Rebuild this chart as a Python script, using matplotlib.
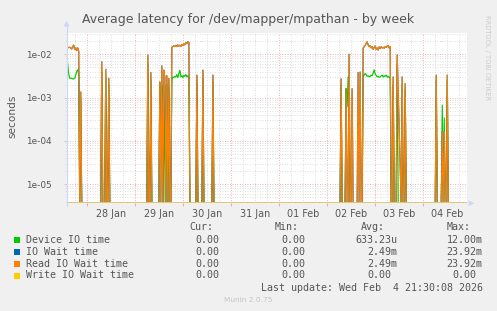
import matplotlib
matplotlib.use('Agg')
import matplotlib.pyplot as plt
from matplotlib.patches import Polygon, Rectangle
import numpy as np

W, H = 497, 311

# ---- data: hours since 28 Jan 00:00 ----
read_hours = [-10.0, -9.5, -9.0, -8.5, -8.0, -7.5, -7.0, -6.5, -6.0, -5.5, -5.0, -4.5, -4.0, -3.5, -3.0, -2.5,
              7.0, 7.5, 8.0, 9.0, 9.5, 10.0, 10.5, 11.0, 11.5,
              30.0, 30.5, 31.0, 31.5, 32.0, 32.5,
              36.0, 36.5, 37.0, 37.5, 38.0, 38.5, 39.0, 39.5, 40.0, 40.5, 41.0, 41.5, 42.0,
              42.5, 43.0, 43.5, 44.0, 44.5, 45.0, 45.5, 46.0, 46.5, 47.0, 47.5, 48.0, 48.5, 49.0, 49.5, 50.0, 50.5, 51.0, 51.5,
              54.5, 55.0, 55.5, 57.5, 58.0, 58.5, 62.5, 63.0, 63.5,
              126.5, 127.0, 127.5, 129.0, 129.5, 130.0, 130.5, 131.0, 131.5, 132.0, 132.5, 133.0,
              135.0, 135.5, 136.0, 136.5, 137.0, 137.5,
              138.0, 138.5, 139.0, 139.5, 140.0, 140.5, 141.0, 141.5, 142.0, 142.5, 143.0, 143.5, 144.0, 144.5,
              145.0, 145.5, 146.0, 146.5, 147.0, 147.5, 148.0, 148.5, 149.0, 149.5, 150.0, 150.5, 151.0, 151.5, 152.0,
              152.5, 153.0, 153.5, 154.0, 154.5, 155.0, 157.0, 157.5, 158.0, 158.5, 159.0, 159.5,
              174.0, 174.5, 175.0, 177.0, 177.5, 178.0, 178.5, 179.0, 179.5, 180.0, 180.5, 189.6]
read_vals = [0.0145, 0.0145, 0.0143, 0.0145, 0.0140, 0.0132, 0.0150, 0.0163, 0.0128, 0.0142, 0.0122, 0.0140, 0.0118, 0.0, 0.00135, 0.0,
             0.0, 0.0067, 0.0, 0.0, 0.0045, 0.0, 0.0, 0.0028, 0.0,
             0.0, 0.0096, 0.0, 0.0, 0.0038, 0.0,
             0.0, 0.0023, 0.0, 0.0054, 0.0, 0.0043, 0.0030, 0.0, 0.0032, 0.0, 0.0028, 0.0, 0.0,
             0.0145, 0.0150, 0.0157, 0.0152, 0.0160, 0.0150, 0.0165, 0.0155, 0.0162, 0.0150, 0.0168, 0.0160, 0.0175, 0.0165, 0.0185, 0.0175, 0.0195, 0.0185, 0.0,
             0.0, 0.0033, 0.0, 0.0, 0.0043, 0.0, 0.0, 0.0033, 0.0,
             0.0, 0.0027, 0.0, 0.0, 0.0016, 0.0, 0.0, 0.0100, 0.0, 0.0, 0.0016, 0.0,
             0.0, 0.0038, 0.0, 0.0039, 0.0, 0.0,
             0.0138, 0.0150, 0.0160, 0.0178, 0.0195, 0.0165, 0.0150, 0.0158, 0.0140, 0.0150, 0.0130, 0.0145, 0.0155, 0.0130,
             0.0140, 0.0125, 0.0148, 0.0135, 0.0150, 0.0140, 0.0145, 0.0138, 0.0150, 0.0143, 0.0155, 0.0160, 0.0140, 0.0150, 0.0,
             0.0, 0.0030, 0.0, 0.0, 0.0, 0.0096, 0.0, 0.0030, 0.0, 0.0, 0.0021, 0.0,
             0.0, 0.0033, 0.0, 0.0, 0.000165, 0.0, 0.000165, 0.0, 0.0, 0.0033, 0.0, 0.0]

# IO Wait time is identical to Read IO Wait time
iowait_hours = list(read_hours)
iowait_vals = list(read_vals)

device_hours = [-10.0, -9.5, -9.0, -8.5, -8.0, -7.5, -7.0, -6.5, -6.0, -5.5, -5.0, -4.5, -4.0, -3.5, -3.0, -2.5,
                7.0, 7.5, 8.0, 9.0, 9.5, 10.0, 10.5, 11.0, 11.5,
                30.0, 30.5, 31.0, 31.5, 32.0, 32.5,
                36.0, 36.5, 37.0, 37.5, 38.0, 38.5, 39.0, 39.5, 40.0, 40.5, 41.0, 41.5, 42.0,
                42.5, 43.0, 43.5, 44.0, 44.5, 45.0, 45.5, 46.0, 46.5, 47.0, 47.5, 48.0, 48.5, 49.0, 49.5, 50.0, 50.5, 51.0, 51.5,
                54.5, 55.0, 55.5, 57.5, 58.0, 58.5, 62.5, 63.0, 63.5,
                126.5, 127.0, 127.5, 129.0, 129.5, 130.0, 130.5, 131.0, 131.5, 137.5,
                138.0, 138.5, 139.0, 139.5, 140.0, 140.5, 141.0, 141.5, 142.0, 142.5, 143.0, 143.5, 144.0, 144.5,
                145.0, 145.5, 146.0, 146.5, 147.0, 147.5, 148.0, 148.5, 149.0, 149.5, 150.0, 150.5, 151.0, 151.5, 152.0,
                152.5, 153.0, 153.5, 154.5, 155.0, 155.5, 157.0, 157.5, 158.0, 158.5, 159.0, 159.5,
                174.0, 174.5, 175.0, 177.0, 177.5, 178.0, 178.5, 179.0, 179.5, 180.0, 180.5, 189.6]
device_vals = [0.0090, 0.0060, 0.0035, 0.0028, 0.0028, 0.0028, 0.0027, 0.0027, 0.0028, 0.0033, 0.0040, 0.0044, 0.0036, 0.0, 0.0010, 0.0,
               0.0, 0.0040, 0.0, 0.0, 0.0030, 0.0, 0.0, 0.0020, 0.0,
               0.0, 0.0060, 0.0, 0.0, 0.0025, 0.0,
               0.0, 0.0022, 0.000044, 0.0019, 0.0015, 0.0, 0.0020, 0.0, 0.0020, 0.0, 0.0018, 0.0, 0.0,
               0.0025, 0.0030, 0.0029, 0.0031, 0.0030, 0.0034, 0.0029, 0.0036, 0.0043, 0.0030, 0.0032, 0.0029, 0.0033, 0.0031, 0.0034, 0.0030, 0.0032, 0.0030, 0.0,
               0.0, 0.0022, 0.0, 0.0, 0.0028, 0.0, 0.0, 0.0022, 0.0,
               0.0, 0.0020, 0.0, 0.0, 0.0016, 0.00062, 0.0030, 0.0030, 0.0, 0.0,
               0.0032, 0.0033, 0.0036, 0.0034, 0.0031, 0.0032, 0.0030, 0.0031, 0.0033, 0.0032, 0.0037, 0.0044, 0.0035, 0.0033,
               0.0030, 0.0031, 0.00295, 0.0030, 0.0032, 0.0033, 0.0030, 0.0032, 0.0031, 0.0033, 0.0030, 0.0031, 0.0029, 0.0030, 0.0,
               0.0, 0.0020, 0.0, 0.0, 0.0060, 0.0, 0.0, 0.0020, 0.0, 0.0, 0.0015, 0.0,
               0.0, 0.0025, 0.0, 0.0, 0.00067, 0.0, 0.00034, 0.0, 0.0, 0.0025, 0.0, 0.0]

write_hours = [-10.1, 189.6]
write_vals = [0.0, 0.0]

day_labels = ['28 Jan', '29 Jan', '30 Jan', '31 Jan', '01 Feb', '02 Feb', '03 Feb', '04 Feb']
ytick_vals = [1e-5, 1e-4, 1e-3, 1e-2]
ytick_labels = ['1e-05', '1e-04', '1e-03', '1e-02']

legend_names = ['Device IO time', 'IO Wait time', 'Read IO Wait time', 'Write IO Wait time']
legend_colors = ['#00CC00', '#0066B3', '#FF8000', '#FFCC00']
cur_vals = ['0.00', '0.00', '0.00', '0.00']
min_vals = ['0.00', '0.00', '0.00', '0.00']
avg_vals = ['633.23u', '2.49m', '2.49m', '0.00']
max_vals = ['12.00m', '23.92m', '23.92m', '0.00']

# ---- figure ----
YMIN, YMAX = 3.64e-6, 0.031
fig = plt.figure(figsize=(W / 100, H / 100), dpi=100, facecolor='#F0F0F0')
ax = fig.add_axes([66.5 / W, 1 - 203.3 / H, 400 / W, 170.3 / H])
ax.set_facecolor('white')
ax.set_yscale('log')
ax.set_xlim(-10.1, 189.6)
ax.set_ylim(YMIN, YMAX)
for s in ax.spines.values():
    s.set_visible(False)

# grid
grid_dash = (0, (1, 2))
for e in range(-6, -1):
    for k in range(2, 10):
        v = k * 10.0 ** e
        if YMIN < v < YMAX:
            ax.axhline(v, color='#D4D4D4', lw=0.6, ls=grid_dash, zorder=0.5)
for e in range(-5, -1):
    ax.axhline(10.0 ** e, color='#E89A9A', lw=0.6, ls=grid_dash, zorder=0.6)
for hh in range(-6, 190, 6):
    if hh % 24:
        ax.axvline(hh, color='#D4D4D4', lw=0.6, ls=grid_dash, zorder=0.5)
    else:
        ax.axvline(hh, color='#E89A9A', lw=0.6, ls=grid_dash, zorder=0.6)

def floor(v):
    return np.maximum(np.asarray(v, dtype=float), YMIN)

lw = 0.85
ax.plot(device_hours, floor(device_vals), color='#00CC00', lw=lw, zorder=2)
ax.plot(iowait_hours, floor(iowait_vals), color='#0066B3', lw=lw, zorder=3)
ax.plot(read_hours, floor(read_vals), color='#FF8000', lw=lw, zorder=4)
ax.plot(write_hours, floor(write_vals), color='#E0C878', lw=1.4, zorder=5)

# ticks
ax.set_yticks(ytick_vals, ytick_labels)
ax.set_yticks([k * 10.0 ** e for e in range(-6, -1) for k in range(2, 10) if YMIN < k * 10.0 ** e < YMAX], minor=True)
ax.tick_params(axis='y', which='major', length=2, width=0.6, color='#C8C8C8', pad=9,
               labelsize=6.4, labelcolor='#555555')
ax.tick_params(axis='y', which='minor', length=1.5, width=0.5, color='#DDDDDD')
ax.set_xticks(list(range(0, 190, 24)), [''] * 8)
ax.set_xticks([12 + 24 * i for i in range(8)], day_labels, minor=True)
ax.tick_params(axis='x', which='major', length=2.5, width=0.6, color='#E89A9A')
ax.tick_params(axis='x', which='minor', length=0, pad=4, labelsize=6.9, labelcolor='#555555')
for t in ax.get_yticklabels() + ax.get_xticklabels(minor=True):
    t.set_fontfamily('DejaVu Sans')

# overlay in pixel coords
ov = fig.add_axes([0, 0, 1, 1], zorder=5)
ov.set_xlim(0, W)
ov.set_ylim(H, 0)
ov.axis('off')

axis_col = '#CFD6F8'
ov.plot([66.5, 66.5], [206, 26], color=axis_col, lw=0.8)
ov.add_patch(Polygon([[63.5, 26.5], [69.5, 26.5], [66.5, 21]], closed=True, color=axis_col, lw=0))
ov.add_patch(Polygon([[468.5, 200.3], [468.5, 206.3], [474, 203.3]], closed=True, color=axis_col, lw=0))

ov.text(248.5, 19, 'Average latency for /dev/mapper/mpathan - by week', ha='center', va='center',
        fontsize=9, color='#555555', family='DejaVu Sans')
ov.text(12, 116, 'seconds', rotation=90, ha='center', va='center', fontsize=7.6,
        color='#555555', family='DejaVu Sans')
ov.text(487.5, 15, 'RRDTOOL / TOBI OETIKER', rotation=270, ha='center', va='top', fontsize=4.8,
        color='#CCCCCC', family='DejaVu Sans')

mono = dict(family='DejaVu Sans Mono', fontsize=7.2, color='#555555', va='center')
cw = 6.0
cols = [225.3, 311.0, 397.3, 482.7]
headers = ['Cur:', 'Min:', 'Avg:', 'Max:']
for cx, hd in zip(cols, headers):
    ov.text(cx - 2 * cw, 227.3, hd, ha='right', **mono)
rows_y = [240.0, 251.8, 263.6, 275.5]
for i, ry in enumerate(rows_y):
    ov.add_patch(Rectangle((14, ry - 3), 6, 6, color=legend_colors[i], lw=0))
    ov.text(26, ry, legend_names[i], ha='left', **mono)
    for cx, col in zip(cols, [cur_vals, min_vals, avg_vals, max_vals]):
        s = col[i]
        xr = cx if s[-1].isalpha() else cx - cw
        ov.text(xr, ry, s, ha='right', **mono)
ov.text(482.7, 287.7, 'Last update: Wed Feb  4 21:30:08 2026', ha='right', **mono)
ov.text(248, 300, 'Munin 2.0.75', ha='center', va='center', fontsize=5.3, color='#C4C4C4',
        family='DejaVu Sans')

fig.savefig('out.png', dpi=100, facecolor=fig.get_facecolor())
